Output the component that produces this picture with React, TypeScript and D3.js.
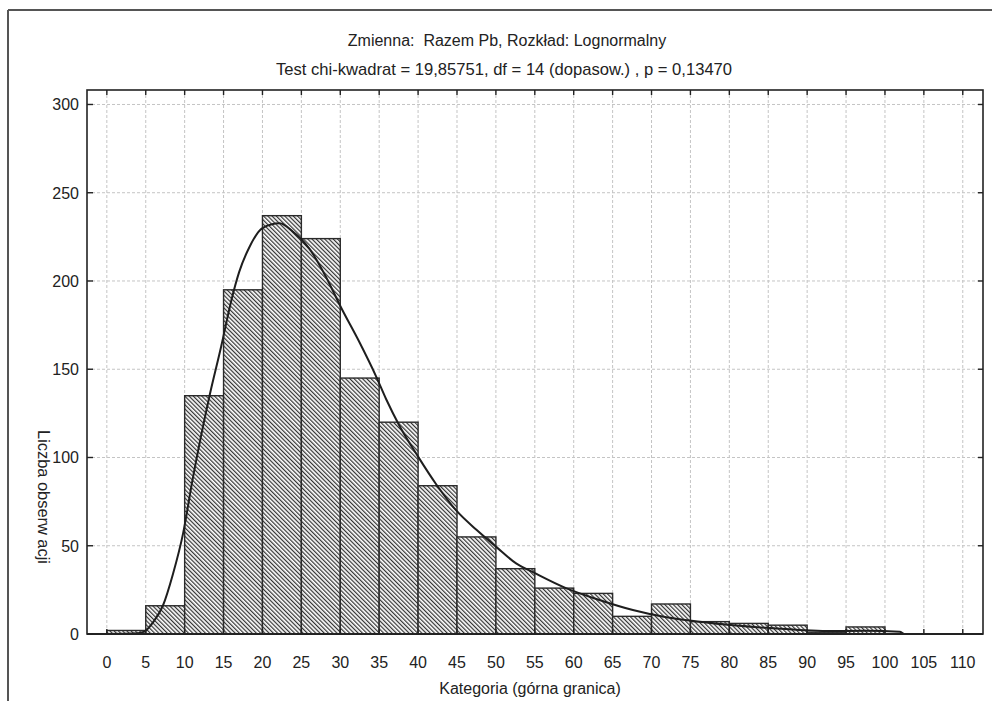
import React from "react";
import * as d3 from "d3";

const titleLine1 = "Zmienna:  Razem Pb, Rozkład: Lognormalny";
const titleLine2 = "Test chi-kwadrat = 19,85751, df = 14 (dopasow.) , p = 0,13470";
const xAxisLabel = "Kategoria (górna granica)";
const yAxisLabel = "Liczba obserw acji";

// histogram bins: lower edge of each 5-wide bin
const binStarts = [0, 5, 10, 15, 20, 25, 30, 35, 40, 45, 50, 55, 60, 65, 70, 75, 80, 85, 90, 95, 100];
const binCounts = [2, 16, 135, 195, 237, 224, 145, 120, 84, 55, 37, 26, 23, 10, 17, 7, 6, 5, 1, 4, 0];
const binWidth = 5;

const xTicks = [0, 5, 10, 15, 20, 25, 30, 35, 40, 45, 50, 55, 60, 65, 70, 75, 80, 85, 90, 95, 100, 105, 110];
const yTicks = [0, 50, 100, 150, 200, 250, 300];

// fitted lognormal curve
const curveX = [0, 4, 4.8, 6, 7.2, 8.5, 9.8, 11, 13.2, 14.7, 16, 17, 18.3, 20, 22.2, 23.9, 26, 28.2, 30.1, 32.5, 34.6, 35.9, 37.6, 40, 42.3, 44.9, 47.5, 50, 52.6, 55, 59, 63.3, 67.6, 71.9, 76.2, 80.5, 84.8, 89, 92.5, 97.6, 101.9, 102.5, 112.5];
const curveY = [0, 0.4, 1.3, 7, 16, 34, 57, 87, 135, 163, 189, 205, 219, 230, 232.7, 228, 218.5, 202, 185, 165, 146, 133, 118, 100.5, 85, 70, 59, 49.5, 40, 34.5, 26, 19.3, 13.6, 9.5, 7, 5, 3.5, 2.3, 1.7, 1.8, 1.3, 0, 0];

export default function App() {
  const W = 992, H = 701;
  const left = 87, right = 983, top = 90, bottom = 634;
  const x = d3.scaleLinear().domain([-2.55, 112.6]).range([left, right]);
  const y = d3.scaleLinear().domain([0, 308.2]).range([bottom, top]);
  const font = "'Liberation Sans', Arial, Helvetica, sans-serif";
  const fs = 16;

  const line = d3
    .line<number>()
    .x((_, i) => x(curveX[i]))
    .y((_, i) => y(curveY[i]))
    .curve(d3.curveMonotoneX);
  const pathD = line(curveX) || "";

  return (
    <svg width={W} height={H} style={{ position: "absolute", left: 0, top: 0, background: "#fff" }}>
      <defs>
        <pattern id="hatch" width="3" height="3" patternUnits="userSpaceOnUse" patternTransform="rotate(-45)">
          <rect width="3" height="3" fill="#fff" />
          <line x1="0.6" y1="0" x2="0.6" y2="3" stroke="#333" strokeWidth="1.25" />
        </pattern>
        <clipPath id="plotclip">
          <rect x={left} y={top} width={right - left} height={bottom - top} />
        </clipPath>
      </defs>
      <rect x={0} y={0} width={W} height={H} fill="#fff" />
      {/* outer frame */}
      <line x1={8} y1={10} x2={W + 2} y2={10} stroke="#555" strokeWidth={2} />
      <line x1={8} y1={10} x2={8} y2={H + 2} stroke="#555" strokeWidth={2} />

      {/* titles */}
      <text x={507} y={46} textAnchor="middle" fontFamily={font} fontSize={fs} fill="#222" style={{ whiteSpace: "pre" }}>
        {titleLine1}
      </text>
      <text x={504} y={75} textAnchor="middle" fontFamily={font} fontSize={16.6} fill="#222" style={{ whiteSpace: "pre" }}>
        {titleLine2}
      </text>

      {/* grid */}
      <g stroke="#c4c4c4" strokeWidth={1} strokeDasharray="3,2">
        {xTicks.map((t) => (
          <line key={"gx" + t} x1={x(t)} x2={x(t)} y1={top} y2={bottom} />
        ))}
        {yTicks.map((t) => (
          <line key={"gy" + t} x1={left} x2={right} y1={y(t)} y2={y(t)} />
        ))}
      </g>

      {/* bars */}
      <g clipPath="url(#plotclip)">
        {binStarts.map((b, i) =>
          binCounts[i] > 0 ? (
            <rect
              key={"bar" + b}
              x={x(b)}
              y={y(binCounts[i])}
              width={x(b + binWidth) - x(b)}
              height={y(0) - y(binCounts[i])}
              fill="url(#hatch)"
              stroke="#2a2a2a"
              strokeWidth={1.4}
            />
          ) : null
        )}
        <path d={pathD} fill="none" stroke="#1e1e1e" strokeWidth={2} />
      </g>

      {/* plot frame */}
      <rect x={left} y={top} width={right - left} height={bottom - top} fill="none" stroke="#222" strokeWidth={1.6} />
      <line x1={left} x2={right} y1={bottom} y2={bottom} stroke="#222" strokeWidth={2.2} />

      {/* ticks */}
      <g stroke="#222" strokeWidth={1.4}>
        {xTicks.map((t) => (
          <g key={"tx" + t}>
            <line x1={x(t)} x2={x(t)} y1={top} y2={top + 5} />
            <line x1={x(t)} x2={x(t)} y1={bottom} y2={bottom - 5} />
          </g>
        ))}
        {yTicks.map((t) => (
          <g key={"ty" + t}>
            <line x1={left} x2={left + 6} y1={y(t)} y2={y(t)} />
            <line x1={right} x2={right - 5} y1={y(t)} y2={y(t)} />
          </g>
        ))}
      </g>

      {/* tick labels */}
      {xTicks.map((t) => (
        <text key={"lx" + t} x={x(t)} y={668} textAnchor="middle" fontFamily={font} fontSize={fs} fill="#222">
          {t}
        </text>
      ))}
      {yTicks.map((t) => (
        <text key={"ly" + t} x={79} y={y(t) + 6} textAnchor="end" fontFamily={font} fontSize={fs} fill="#222">
          {t}
        </text>
      ))}

      {/* axis labels */}
      <text x={530} y={694} textAnchor="middle" fontFamily={font} fontSize={fs} fill="#222">
        {xAxisLabel}
      </text>
      <text
        transform={`translate(38,497) rotate(90)`}
        textAnchor="middle"
        fontFamily={font}
        fontSize={16.4}
        fill="#222"
      >
        {yAxisLabel}
      </text>
    </svg>
  );
}
